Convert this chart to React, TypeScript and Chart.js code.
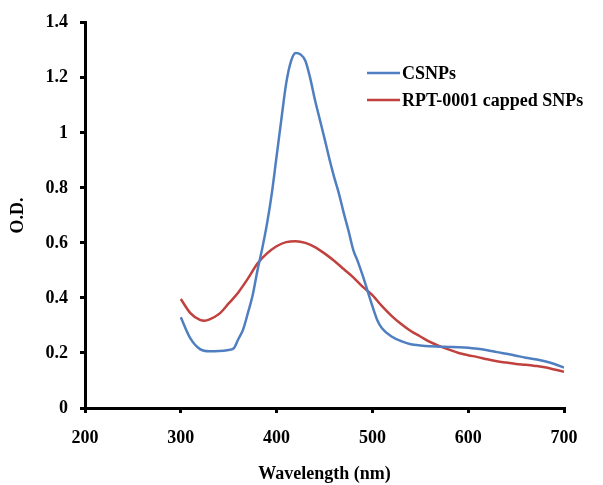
import React, { useEffect, useRef } from "react";
import { Chart, registerables } from "chart.js";

Chart.register(...registerables);

const wavelengthsCSNPs = [300, 310, 320, 330, 340, 350, 355, 360, 365, 370, 375, 380, 385, 390, 395, 400, 405, 410, 415, 420, 425, 430, 435, 440, 445, 450, 455, 460, 465, 470, 475, 480, 485, 490, 495, 500, 505, 510, 520, 530, 540, 550, 560, 570, 580, 590, 600, 610, 620, 630, 640, 650, 660, 670, 680, 690, 700];
const valuesCSNPs = [0.33, 0.253, 0.214, 0.206, 0.207, 0.211, 0.216, 0.25, 0.285, 0.345, 0.41, 0.5, 0.58, 0.67, 0.78, 0.915, 1.05, 1.18, 1.26, 1.29, 1.285, 1.262, 1.2, 1.12, 1.05, 0.98, 0.907, 0.84, 0.78, 0.71, 0.645, 0.575, 0.53, 0.48, 0.425, 0.37, 0.32, 0.29, 0.26, 0.243, 0.232, 0.227, 0.224, 0.223, 0.222, 0.221, 0.219, 0.215, 0.21, 0.203, 0.197, 0.19, 0.183, 0.177, 0.17, 0.16, 0.147];

const wavelengthsRPT = [300, 310, 320, 325, 330, 340, 350, 360, 370, 380, 390, 400, 410, 420, 430, 440, 450, 460, 470, 480, 490, 500, 510, 520, 530, 540, 550, 560, 570, 580, 590, 600, 610, 620, 630, 640, 650, 660, 670, 680, 690, 700];
const valuesRPT = [0.396, 0.345, 0.32, 0.317, 0.322, 0.342, 0.38, 0.42, 0.47, 0.525, 0.562, 0.588, 0.603, 0.606, 0.6, 0.585, 0.562, 0.535, 0.505, 0.475, 0.44, 0.41, 0.37, 0.335, 0.305, 0.28, 0.26, 0.24, 0.225, 0.212, 0.2, 0.192, 0.185, 0.177, 0.17, 0.165, 0.16, 0.157, 0.153, 0.148, 0.14, 0.132];

const xTicks = [200, 300, 400, 500, 600, 700];
const yTicks = [0, 0.2, 0.4, 0.6, 0.8, 1, 1.2, 1.4];
const yTickLabels = ["0", "0.2", "0.4", "0.6", "0.8", "1", "1.2", "1.4"];

const seriesLabels = ["CSNPs", "RPT-0001 capped SNPs"];
const seriesColors = ["#4f7fc1", "#c0413d"];

const FONT = "'Liberation Serif', 'Times New Roman', serif";

const legendPlugin = {
  id: "customLegend",
  afterDraw(chart: any) {
    const ctx = chart.ctx;
    ctx.save();
    const x0 = 367;
    const x1 = 400;
    const ys = [73, 100];
    chart.data.datasets.forEach((ds: any, i: number) => {
      ctx.strokeStyle = ds.borderColor;
      ctx.lineWidth = 2.5;
      ctx.beginPath();
      ctx.moveTo(x0, ys[i]);
      ctx.lineTo(x1, ys[i]);
      ctx.stroke();
      ctx.fillStyle = "#000";
      ctx.font = `bold 18px ${FONT}`;
      ctx.textBaseline = "middle";
      ctx.textAlign = "left";
      ctx.fillText(ds.label, x1 + 2, ys[i] + 1);
    });
    ctx.restore();
  },
};

export default function App() {
  const ref = useRef<HTMLCanvasElement | null>(null);
  useEffect(() => {
    if (!ref.current) return;
    const chart = new Chart(ref.current, {
      type: "scatter",
      data: {
        datasets: [
          {
            label: seriesLabels[0],
            data: wavelengthsCSNPs.map((x, i) => ({ x, y: valuesCSNPs[i] })),
            borderColor: seriesColors[0],
            backgroundColor: seriesColors[0],
            borderWidth: 2.5,
            showLine: true,
            pointRadius: 0,
            cubicInterpolationMode: "monotone",
          },
          {
            label: seriesLabels[1],
            data: wavelengthsRPT.map((x, i) => ({ x, y: valuesRPT[i] })),
            borderColor: seriesColors[1],
            backgroundColor: seriesColors[1],
            borderWidth: 2.5,
            showLine: true,
            pointRadius: 0,
            cubicInterpolationMode: "monotone",
          },
        ],
      },
      options: {
        animation: false,
        responsive: false,
        layout: { padding: { top: 20, right: 39, left: 0, bottom: 0 } },
        plugins: { legend: { display: false }, tooltip: { enabled: false } },
        scales: {
          x: {
            type: "linear",
            min: 200,
            max: 700,
            afterBuildTicks: (scale: any) => {
              scale.ticks = xTicks.map((v) => ({ value: v }));
            },
            afterFit: (scale: any) => {
              scale.height = 77;
            },
            grid: {
              display: true,
              drawOnChartArea: false,
              drawTicks: true,
              tickLength: 5,
              color: "#000",
              lineWidth: 3,
            },
            border: { display: true, color: "#000", width: 3 },
            ticks: {
              color: "#000",
              padding: 15,
              maxRotation: 0,
              font: { family: FONT, size: 18, weight: "bold" },
            },
            title: {
              display: true,
              text: "Wavelength (nm)",
              color: "#000",
              font: { family: FONT, size: 18, weight: "bold" },
              padding: { top: 2, bottom: 0 },
            },
          },
          y: {
            type: "linear",
            min: 0,
            max: 1.4,
            afterBuildTicks: (scale: any) => {
              scale.ticks = yTicks.map((v) => ({ value: v }));
            },
            afterFit: (scale: any) => {
              scale.width = 85;
            },
            grid: {
              display: true,
              drawOnChartArea: false,
              drawTicks: true,
              tickLength: 5,
              color: "#000",
              lineWidth: 3,
            },
            border: { display: true, color: "#000", width: 3 },
            ticks: {
              color: "#000",
              padding: 12,
              font: { family: FONT, size: 18, weight: "bold" },
              callback: (v: any) => {
                const idx = yTicks.findIndex((t) => Math.abs(t - Number(v)) < 1e-9);
                return idx >= 0 ? yTickLabels[idx] : "";
              },
            },
            title: {
              display: true,
              text: "O.D.",
              color: "#000",
              font: { family: FONT, size: 18, weight: "bold" },
              padding: { top: 8, bottom: 8 },
            },
          },
        },
      },
      plugins: [legendPlugin],
    } as any);
    return () => chart.destroy();
  }, []);
  return (
    <div style={{ position: "fixed", left: 0, top: 0, width: 603, height: 485, background: "#fff" }}>
      <canvas ref={ref} width={603} height={485} style={{ display: "block" }} />
    </div>
  );
}
